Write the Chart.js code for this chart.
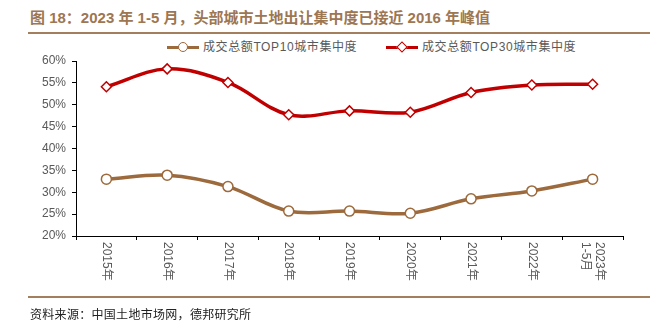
<!DOCTYPE html>
<html>
<head>
<meta charset="utf-8">
<script src="https://cdn.jsdelivr.net/npm/chart.js@4.4.0/dist/chart.umd.min.js"></script>
<style>
  html, body { margin:0; padding:0; background:#fff; }
  #wrap { position:relative; width:659px; height:323px; overflow:hidden; font-family:"Liberation Sans","Noto Sans CJK SC",sans-serif; }
  #title { position:absolute; left:30px; top:6px; font-size:15px; font-weight:bold; color:#9d7652; white-space:nowrap; font-family:"Liberation Sans","Noto Sans CJK SC",sans-serif; }
  .rule { position:absolute; left:28px; width:622px; height:2px; background:#a47f5e; }
  #source { position:absolute; left:30px; top:305px; font-size:12px; color:#222; white-space:nowrap; letter-spacing:0.3px; font-family:"Noto Sans CJK SC",sans-serif; }
  #legend { position:absolute; top:39px; left:0; width:659px; height:16px; font-size:12px; color:#595959; }
  .litem { position:absolute; top:0; height:16px; line-height:16px; white-space:nowrap; }
  .lline { position:absolute; top:7px; height:3px; }
  .lmark { position:absolute; background:#fff; box-sizing:border-box; }
  .ltext { position:absolute; top:0; letter-spacing:0.6px; }
  canvas { position:absolute; left:0; top:0; }
</style>
</head>
<body>
<div id="wrap">
  <div id="title">图 18：2023 年 1-5 月，头部城市土地出让集中度已接近 2016 年峰值</div>
  <div class="rule" style="top:32px;"></div>
  <div id="legend">
    <div class="litem" style="left:167px;">
      <div class="lline" style="left:0;width:32px;background:#9c6a3c;"></div>
      <div class="lmark" style="left:11px;top:3px;width:10px;height:10px;border:1.5px solid #9c6a3c;border-radius:50%;"></div>
      <div class="ltext" style="left:36px;">成交总额TOP10城市集中度</div>
    </div>
    <div class="litem" style="left:386px;">
      <div class="lline" style="left:0;width:32px;background:#c00000;"></div>
      <div class="lmark" style="left:12px;top:4px;width:8px;height:8px;border:1.5px solid #c00000;transform:rotate(45deg);"></div>
      <div class="ltext" style="left:36px;">成交总额TOP30城市集中度</div>
    </div>
  </div>
  <canvas id="c" width="659" height="323"></canvas>
  <div class="rule" style="top:296px;"></div>
  <div id="source">资料来源：中国土地市场网，德邦研究所</div>
</div>
<script>
const categories = ["2015年","2016年","2017年","2018年","2019年","2020年","2021年","2022年",["2023年","1-5月"]];
const top10Values = [33.0, 33.9, 31.3, 25.7, 25.7, 25.2, 28.5, 30.3, 33.0];
const top30Values = [54.1, 58.2, 55.1, 47.7, 48.6, 48.3, 52.8, 54.5, 54.7];
const seriesNames = ["成交总额TOP10城市集中度", "成交总额TOP30城市集中度"];
const yMin = 20, yMax = 60, yStep = 5;

const rotatedLabels = {
  id: 'rotatedLabels',
  afterDraw(chart) {
    const ctx = chart.ctx;
    const xs = chart.scales.x;
    const top = chart.chartArea.bottom + 6;
    ctx.save();
    ctx.font = '12px "Liberation Sans","Noto Sans CJK SC",sans-serif';
    ctx.fillStyle = '#595959';
    ctx.textAlign = 'left';
    ctx.textBaseline = 'middle';
    categories.forEach((lab, i) => {
      const lines = Array.isArray(lab) ? lab : [lab];
      const x = xs.getPixelForValue(i);
      ctx.save();
      ctx.translate(x, top);
      ctx.rotate(Math.PI / 2);
      const lh = 14;
      lines.forEach((t, j) => {
        ctx.fillText(t, 0, (j - (lines.length - 1) / 2) * lh);
      });
      ctx.restore();
    });
    ctx.restore();
  }
};

new Chart(document.getElementById('c'), {
  type: 'line',
  data: {
    labels: categories,
    datasets: [
      {
        label: seriesNames[0],
        data: top10Values,
        borderColor: '#9c6a3c',
        backgroundColor: '#ffffff',
        borderWidth: 3.5,
        tension: 0.35,
        pointStyle: 'circle',
        pointRadius: 5,
        pointBorderWidth: 1.5,
        pointBackgroundColor: '#ffffff',
        pointBorderColor: '#9c6a3c'
      },
      {
        label: seriesNames[1],
        data: top30Values,
        borderColor: '#c00000',
        backgroundColor: '#ffffff',
        borderWidth: 3.5,
        tension: 0.35,
        pointStyle: 'rectRot',
        pointRadius: 5,
        pointBorderWidth: 1.5,
        pointBackgroundColor: '#ffffff',
        pointBorderColor: '#c00000'
      }
    ]
  },
  options: {
    responsive: false,
    animation: false,
    devicePixelRatio: 1,
    layout: { padding: { top: 61, right: 36, bottom: 0, left: 0 } },
    plugins: { legend: { display: false }, tooltip: { enabled: false }, title: { display: false } },
    scales: {
      x: {
        type: 'category',
        offset: true,
        grid: { display: true, offset: true, drawOnChartArea: false, drawTicks: true, tickLength: 4, color: '#000', lineWidth: 1 },
        border: { display: true, color: '#000', width: 1 },
        ticks: { display: false },
        afterFit(scale) { scale.height = 87; }
      },
      y: {
        min: yMin, max: yMax,
        grid: { display: true, drawOnChartArea: false, drawTicks: true, tickLength: 4, color: '#000', lineWidth: 1 },
        border: { display: true, color: '#000', width: 1 },
        ticks: {
          stepSize: yStep,
          padding: 6,
          color: '#595959',
          font: { family: '"Liberation Sans","Noto Sans CJK SC",sans-serif', size: 12 },
          callback: v => v + '%'
        },
        afterFit(scale) { scale.width = 76; }
      }
    }
  },
  plugins: [rotatedLabels]
});
</script>
</body>
</html>
